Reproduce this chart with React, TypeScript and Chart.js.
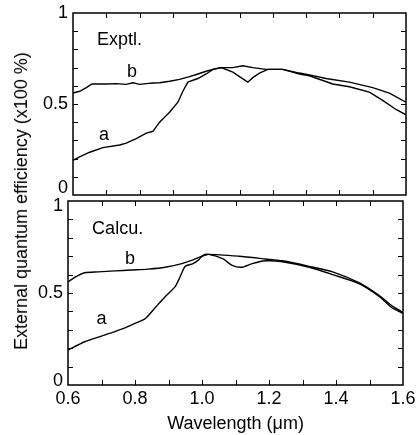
import React, { useEffect, useRef } from 'react';
import { Chart, registerables } from 'chart.js';

Chart.register(...registerables);

// ---------- data (wavelength in µm, EQE in x100 %) ----------
const exptlA_wl = [0.6, 0.62, 0.65, 0.69, 0.74, 0.76, 0.79, 0.82, 0.84, 0.86, 0.89, 0.915, 0.93, 0.945, 0.975, 1.0, 1.02, 1.045, 1.08, 1.1, 1.125, 1.14, 1.16, 1.185, 1.23, 1.28, 1.31, 1.38, 1.43, 1.49, 1.53, 1.57, 1.6];
const exptlA_eqe = [0.19, 0.21, 0.235, 0.26, 0.275, 0.285, 0.31, 0.34, 0.35, 0.4, 0.455, 0.51, 0.57, 0.62, 0.64, 0.665, 0.69, 0.7, 0.675, 0.65, 0.62, 0.645, 0.67, 0.69, 0.69, 0.665, 0.655, 0.61, 0.595, 0.565, 0.52, 0.47, 0.44];

const exptlB_wl = [0.6, 0.62, 0.64, 0.657, 0.7, 0.73, 0.76, 0.78, 0.8, 0.82, 0.84, 0.86, 0.89, 0.92, 0.95, 0.975, 1.0, 1.02, 1.047, 1.08, 1.11, 1.14, 1.18, 1.23, 1.28, 1.31, 1.36, 1.43, 1.5, 1.55, 1.6];
const exptlB_eqe = [0.56, 0.57, 0.59, 0.61, 0.61, 0.612, 0.608, 0.617, 0.608, 0.612, 0.615, 0.617, 0.625, 0.635, 0.65, 0.665, 0.68, 0.69, 0.7, 0.7, 0.71, 0.7, 0.69, 0.69, 0.67, 0.66, 0.64, 0.62, 0.59, 0.56, 0.51];

const calcA_wl = [0.6, 0.65, 0.69, 0.74, 0.77, 0.8, 0.83, 0.86, 0.89, 0.92, 0.935, 0.95, 0.973, 0.99, 1.003, 1.02, 1.063, 1.09, 1.12, 1.15, 1.19, 1.24, 1.32, 1.39, 1.47, 1.53, 1.567, 1.6];
const calcA_eqe = [0.19, 0.235, 0.26, 0.29, 0.31, 0.335, 0.36, 0.42, 0.48, 0.535, 0.59, 0.645, 0.66, 0.68, 0.705, 0.71, 0.685, 0.65, 0.64, 0.66, 0.675, 0.67, 0.64, 0.6, 0.55, 0.48, 0.42, 0.39];

const calcB_wl = [0.6, 0.62, 0.65, 0.69, 0.74, 0.79, 0.84, 0.89, 0.94, 0.973, 1.0, 1.02, 1.11, 1.19, 1.24, 1.32, 1.39, 1.47, 1.53, 1.567, 1.6];
const calcB_eqe = [0.56, 0.585, 0.61, 0.615, 0.62, 0.625, 0.63, 0.64, 0.66, 0.68, 0.7, 0.71, 0.7, 0.685, 0.675, 0.645, 0.615, 0.555, 0.485, 0.43, 0.395];

const xTickLabels = ['0.6', '0.8', '1.0', '1.2', '1.4', '1.6'];
const yTickValues = [0, 0.5, 1];
const yTickLabels = ['0', '0.5', '1'];

const FONT = '"Liberation Sans", Arial, Helvetica, sans-serif';

type Annot = { text: string; x: number; y: number; align: CanvasTextAlign };

const exptlAnnots: Annot[] = [
  { text: 'Exptl.', x: 0.672, y: 0.852, align: 'left' },
  { text: 'b', x: 0.777, y: 0.676, align: 'center' },
  { text: 'a', x: 0.693, y: 0.33, align: 'center' },
];
const calcAnnots: Annot[] = [
  { text: 'Calcu.', x: 0.672, y: 0.848, align: 'left' },
  { text: 'b', x: 0.785, y: 0.685, align: 'center' },
  { text: 'a', x: 0.7, y: 0.359, align: 'center' },
];

const toPts = (xs: number[], ys: number[]) => xs.map((x, i) => ({ x, y: ys[i] }));

function framePlugin(annots: Annot[], yLabelNudge: number[]) {
  return {
    id: 'frameTicks',
    afterDatasetsDraw(chart: any) {
      const { ctx, chartArea } = chart;
      const { left, right, top, bottom } = chartArea;
      const xs = chart.scales.x;
      const ys = chart.scales.y;
      const L = 5;
      ctx.save();
      ctx.strokeStyle = '#000';
      ctx.lineWidth = 1;
      ctx.beginPath();
      xs.ticks.forEach((t: any) => {
        const px = Math.round(xs.getPixelForValue(t.value)) + 0.5;
        if (px < left + 2 || px > right - 2) return;
        ctx.moveTo(px, bottom);
        ctx.lineTo(px, bottom - L);
        ctx.moveTo(px, top);
        ctx.lineTo(px, top + L);
      });
      ys.ticks.forEach((t: any) => {
        const py = Math.round(ys.getPixelForValue(t.value)) + 0.5;
        if (py < top + 2 || py > bottom - 2) return;
        ctx.moveTo(left, py);
        ctx.lineTo(left + L, py);
        ctx.moveTo(right, py);
        ctx.lineTo(right - L, py);
      });
      ctx.stroke();
      ctx.lineWidth = 1.5;
      ctx.strokeRect(left, top, right - left, bottom - top);
      ctx.fillStyle = '#000';
      ctx.font = '18px ' + FONT;
      ctx.textBaseline = 'middle';
      // y tick labels (edge labels pulled inward as in the original figure)
      ctx.textAlign = 'right';
      yTickValues.forEach((v, i) => {
        ctx.fillText(yTickLabels[i], left - 5, ys.getPixelForValue(v) + yLabelNudge[i]);
      });
      annots.forEach((a) => {
        ctx.textAlign = a.align;
        ctx.fillText(a.text, xs.getPixelForValue(a.x), ys.getPixelForValue(a.y));
      });
      ctx.restore();
    },
  };
}

function makeConfig(opts: {
  a: { x: number; y: number }[];
  b: { x: number; y: number }[];
  tension: number;
  padTop: number;
  padRight: number;
  yWidth: number;
  xHeight: number;
  showX: boolean;
  annots: Annot[];
  nudge: number[];
}): any {
  const line = (data: any[]) => ({
    data,
    borderColor: '#000',
    borderWidth: 1.4,
    pointRadius: 0,
    fill: false,
    tension: opts.tension,
  });
  return {
    type: 'line',
    data: { datasets: [line(opts.a), line(opts.b)] },
    options: {
      animation: false,
      responsive: false,
      events: [],
      layout: { padding: { top: opts.padTop, right: opts.padRight, left: 0, bottom: 0 } },
      plugins: { legend: { display: false }, tooltip: { enabled: false } },
      scales: {
        x: {
          type: 'linear',
          min: 0.6,
          max: 1.6,
          grid: { display: false, drawTicks: false },
          border: { display: false },
          ticks: {
            display: opts.showX,
            stepSize: 0.1,
            autoSkip: false,
            maxRotation: 0,
            padding: 3,
            color: '#000',
            font: { size: 18, family: FONT },
            callback: (v: number) => {
              const k = Math.round(v * 10);
              return k % 2 === 0 ? xTickLabels[(k - 6) / 2] ?? '' : '';
            },
          },
          title: {
            display: opts.showX,
            text: 'Wavelength (μm)',
            color: '#000',
            font: { size: 18, family: FONT },
            padding: 0,
          },
          afterFit: (s: any) => {
            s.height = opts.xHeight;
          },
        },
        y: {
          type: 'linear',
          min: 0,
          max: 1,
          grid: { display: false, drawTicks: false },
          border: { display: false },
          ticks: {
            display: false,
            stepSize: 0.1,
            autoSkip: false,
          },
          afterFit: (s: any) => {
            s.width = opts.yWidth;
          },
        },
      },
    },
    plugins: [framePlugin(opts.annots, opts.nudge)],
  };
}

export default function App() {
  const topRef = useRef<HTMLCanvasElement | null>(null);
  const botRef = useRef<HTMLCanvasElement | null>(null);

  useEffect(() => {
    const c1 = new Chart(
      topRef.current as HTMLCanvasElement,
      makeConfig({
        a: toPts(exptlA_wl, exptlA_eqe),
        b: toPts(exptlB_wl, exptlB_eqe),
        tension: 0,
        padTop: 13,
        padRight: 13,
        yWidth: 73,
        xHeight: 20,
        showX: false,
        annots: exptlAnnots,
        nudge: [-7, 0, 0],
      })
    );
    const c2 = new Chart(
      botRef.current as HTMLCanvasElement,
      makeConfig({
        a: toPts(calcA_wl, calcA_eqe),
        b: toPts(calcB_wl, calcB_eqe),
        tension: 0.25,
        padTop: 16,
        padRight: 16,
        yWidth: 68,
        xHeight: 50,
        showX: true,
        annots: calcAnnots,
        nudge: [-4, 0, 5],
      })
    );
    return () => {
      c1.destroy();
      c2.destroy();
    };
  }, []);

  return (
    <div style={{ position: 'absolute', left: 0, top: 0, width: 419, height: 435, background: '#fff', overflow: 'hidden' }}>
      <canvas ref={topRef} width={419} height={215} style={{ position: 'absolute', left: 0, top: 0 }} />
      <canvas ref={botRef} width={419} height={250} style={{ position: 'absolute', left: 0, top: 185 }} />
      <div
        style={{
          position: 'absolute',
          left: 21,
          top: 201,
          transform: 'translate(-50%, -50%) rotate(-90deg)',
          whiteSpace: 'nowrap',
          font: '18px ' + FONT,
          color: '#000',
          lineHeight: '20px',
        }}
      >
        External quantum efficiency (x100 %)
      </div>
    </div>
  );
}
